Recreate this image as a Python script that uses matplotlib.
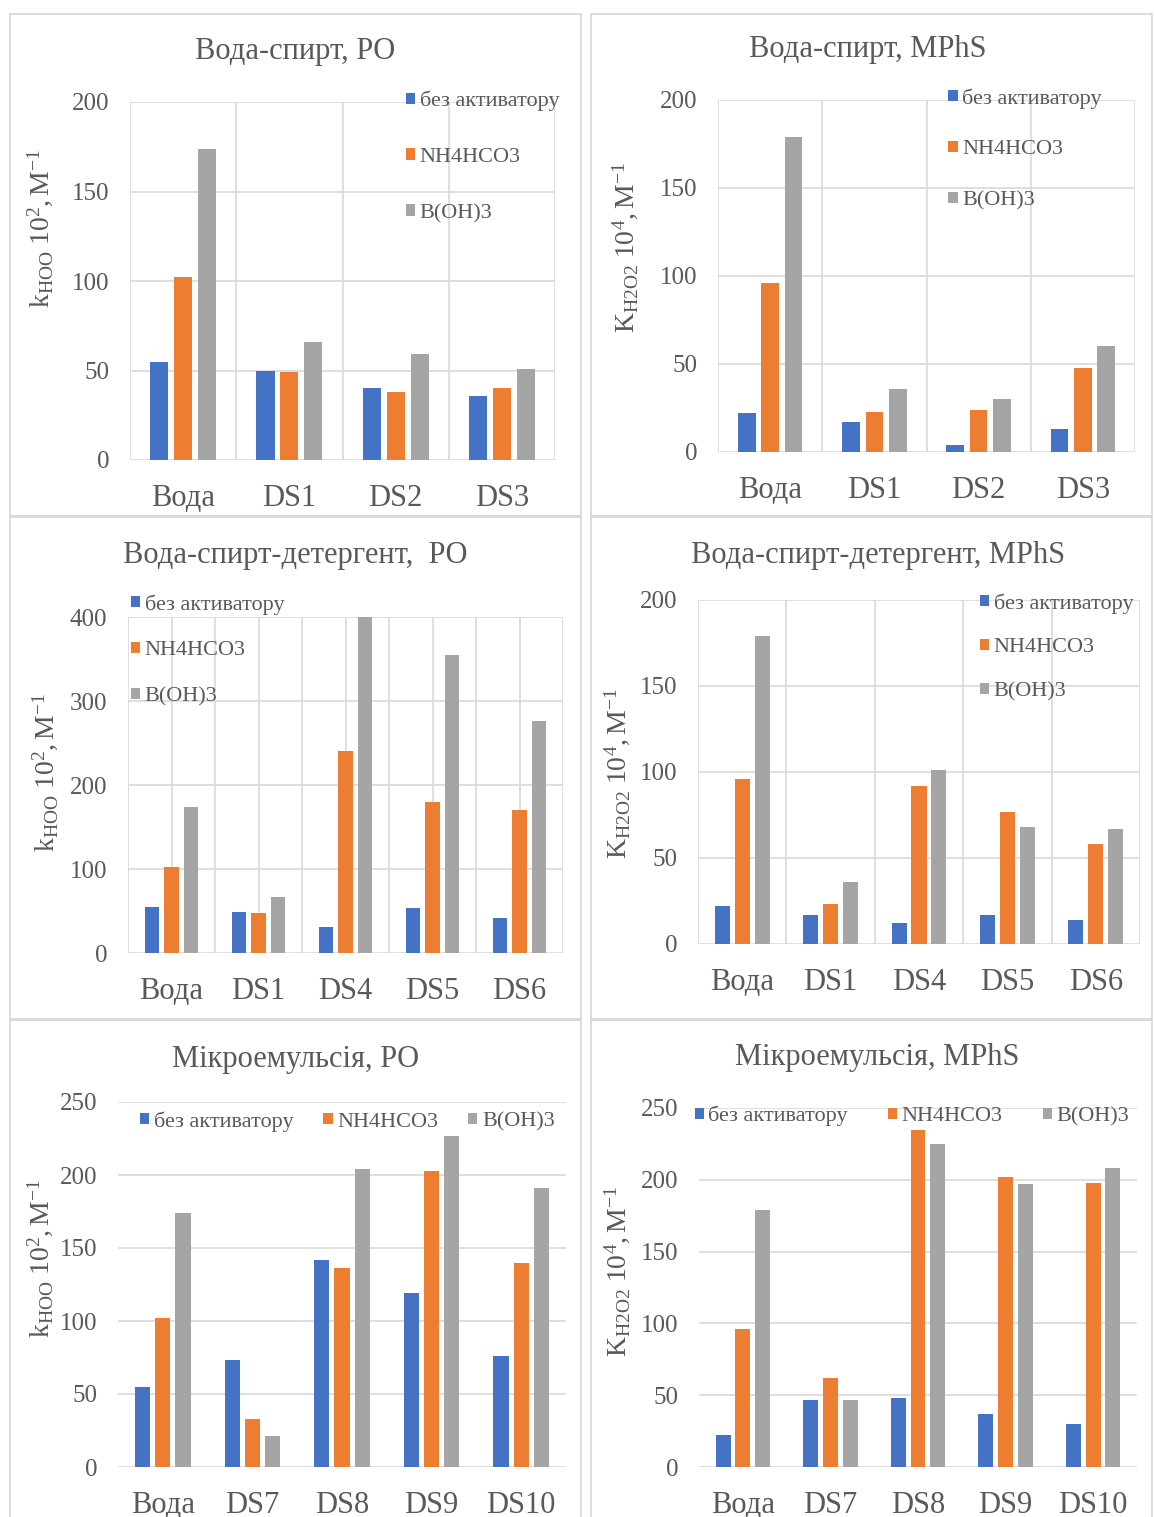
import numpy as np
import matplotlib
matplotlib.use("Agg")
import matplotlib.pyplot as plt
from matplotlib.patches import Rectangle

plt.rcParams["font.family"] = ["Liberation Serif", "DejaVu Serif"]
plt.rcParams["mathtext.fontset"] = "custom"
plt.rcParams["mathtext.rm"] = "Liberation Serif"
plt.rcParams["mathtext.it"] = "Liberation Serif:italic"

W, H = 1154, 1517
TXT = "#595959"
GRID = "#D9D9D9"
colors = ["#4472C4", "#ED7D31", "#A5A5A5"]
series = ["без активатору", "NH4HCO3", "B(OH)3"]

# --- data ---
cat1 = ["Вода", "DS1", "DS2", "DS3"]
po1_none = [55, 50, 40, 36]
po1_nh4 = [102, 49, 38, 40]
po1_boh = [174, 66, 59, 51]

mp1_none = [22, 17, 4, 13]
mp1_nh4 = [96, 23, 24, 48]
mp1_boh = [179, 36, 30, 60]

cat2 = ["Вода", "DS1", "DS4", "DS5", "DS6"]
po2_none = [55, 49, 31, 54, 42]
po2_nh4 = [102, 48, 240, 180, 170]
po2_boh = [174, 67, 400, 355, 276]

mp2_none = [22, 17, 12, 17, 14]
mp2_nh4 = [96, 23, 92, 77, 58]
mp2_boh = [179, 36, 101, 68, 67]

cat3 = ["Вода", "DS7", "DS8", "DS9", "DS10"]
po3_none = [55, 73, 142, 119, 76]
po3_nh4 = [102, 33, 136, 203, 140]
po3_boh = [174, 21, 204, 227, 191]

mp3_none = [22, 47, 48, 37, 30]
mp3_nh4 = [96, 62, 235, 202, 198]
mp3_boh = [179, 47, 225, 197, 208]

lab_po = r"$\mathregular{k_{HOO}\ 10^{2}, M^{-1}}$"
lab_mp = r"$\mathregular{K_{H2O2}\ 10^{4}, M^{-1}}$"

fig = plt.figure(figsize=(W / 100, H / 100), dpi=100)

# panel borders
for (l, t, r, b) in [(10, 14, 581, 516), (591, 14, 1152, 516),
                     (10, 517, 581, 1019), (591, 517, 1152, 1019),
                     (10, 1020, 581, 1530), (591, 1020, 1152, 1530)]:
    fig.patches.append(Rectangle((l / W, 1 - b / H), (r - l) / W, (b - t) / H,
                                 transform=fig.transFigure, fill=False,
                                 edgecolor=GRID, lw=1.3))


def panel(box, cats, vals, ymax, step, title, tpos, ylab, lpos,
          vgrid, leg_anchor, leg_sp, ncol=1, colsp=1.0):
    l, t, r, b = box
    ax = fig.add_axes([l / W, 1 - b / H, (r - l) / W, (b - t) / H])
    n = len(cats)
    x = np.arange(n)
    for i, v in enumerate(vals):
        ax.bar(x + (i - 1) * 0.225, v, width=0.17, color=colors[i],
               label=series[i], zorder=3)
    ax.set_xlim(-0.5, n - 0.5)
    ax.set_ylim(0, ymax)
    ax.set_yticks(np.arange(0, ymax + 1, step))
    ax.set_xticks(x)
    ax.set_xticklabels(cats)
    ax.yaxis.grid(True, color=GRID, lw=1.2, zorder=0)
    if vgrid == 1:
        for xv in np.arange(n + 1) - 0.5:
            ax.axvline(xv, color=GRID, lw=1.2, zorder=0)
    elif vgrid == 2:
        for xv in np.arange(2 * n + 1) / 2 - 0.5:
            ax.axvline(xv, color=GRID, lw=1.2, zorder=0)
    for s in ax.spines.values():
        s.set_visible(False)
    ax.tick_params(axis="y", length=0, pad=15, labelsize=18, labelcolor=TXT)
    ax.tick_params(axis="x", length=0, pad=17, labelsize=22, labelcolor=TXT)
    fig.text(tpos[0] / W, 1 - tpos[1] / H, title, ha="center", va="center",
             fontsize=22, color=TXT)
    fig.text(lpos[0] / W, 1 - lpos[1] / H, ylab, ha="center", va="center",
             rotation=90, fontsize=20, color=TXT)
    ax.legend(loc="upper left", bbox_to_anchor=leg_anchor, frameon=False,
              fontsize=16, labelcolor=TXT, handlelength=0.42,
              handleheight=0.42, handletextpad=0.2, labelspacing=leg_sp,
              borderaxespad=0, borderpad=0, ncol=ncol, columnspacing=colsp)
    return ax


panel((130, 102, 555, 460), cat1, [po1_none, po1_nh4, po1_boh], 200, 50,
      "Вода-спирт, PO", (295, 52), lab_po, (40, 228), 1, (0.649, 1.031), 1.65)
panel((718, 100, 1135, 452), cat1, [mp1_none, mp1_nh4, mp1_boh], 200, 50,
      "Вода-спирт, MPhS", (868, 50), lab_mp, (625, 248), 1, (0.552, 1.034), 1.43)
panel((128, 617, 563, 953), cat2, [po2_none, po2_nh4, po2_boh], 400, 100,
      "Вода-спирт-детергент,  PO", (295, 555), lab_po, (45, 772), 2,
      (0.007, 1.068), 1.2)
panel((698, 600, 1140, 944), cat2, [mp2_none, mp2_nh4, mp2_boh], 200, 50,
      "Вода-спирт-детергент, MPhS", (878, 555), lab_mp, (617, 774), 1,
      (0.638, 1.02), 1.11)
panel((118, 1102, 566, 1467), cat3, [po3_none, po3_nh4, po3_boh], 250, 50,
      "Мікроемульсія, PO", (296, 1060), lab_po, (40, 1258), 0,
      (0.049, 0.975), 0.5, ncol=3, colsp=1.35)
panel((699, 1108, 1137, 1467), cat3, [mp3_none, mp3_nh4, mp3_boh], 250, 50,
      "Мікроемульсія, MPhS", (877, 1058), lab_mp, (617, 1272), 0,
      (-0.01, 1.006), 0.5, ncol=3, colsp=1.8)

fig.savefig("out.png", dpi=100)
